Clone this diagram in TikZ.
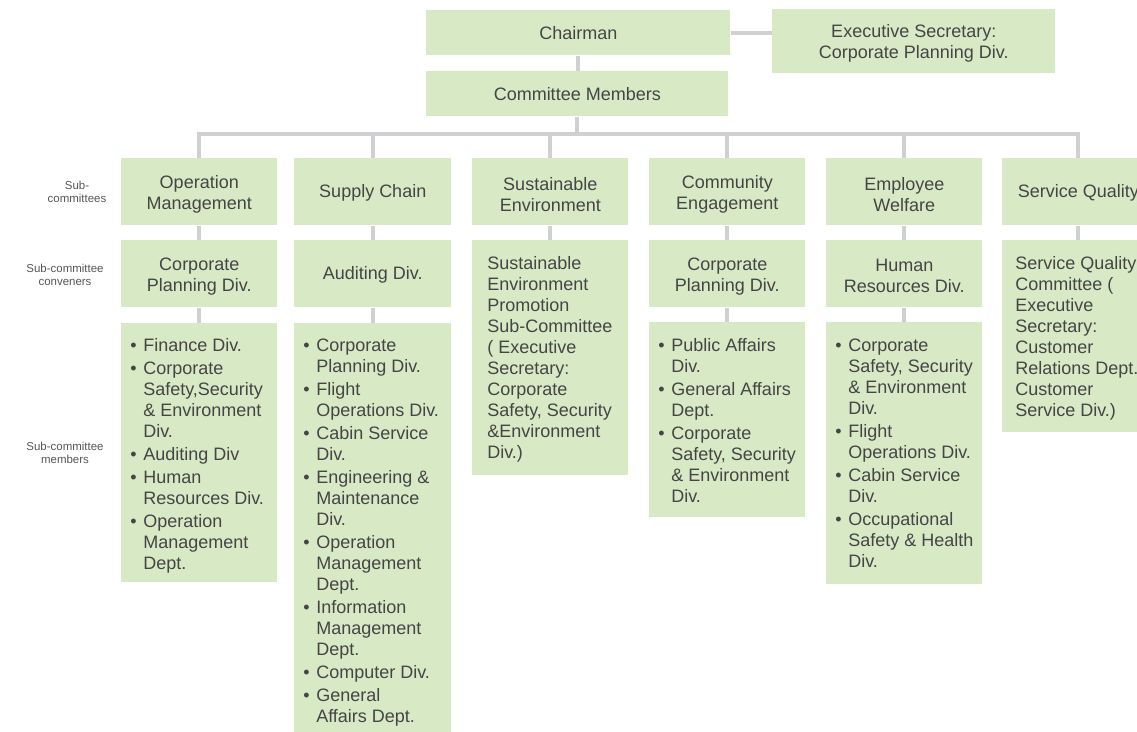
\documentclass[tikz,border=0pt]{standalone}
\usepackage{fontspec}
\setmainfont{Liberation Sans}
\newdimen\pxu \pxu=0.75pt
\definecolor{boxgreen}{HTML}{D8E9C5}
\definecolor{linegray}{HTML}{D0D0D3}
\definecolor{txtgray}{HTML}{454545}
\definecolor{lblgray}{HTML}{555555}
% bullet and hanging indent for the member lists
\newcommand\bu{\makebox[13\pxu][l]{\textbullet}}
\newcommand\hi{\hspace*{13\pxu}}
\tikzset{
  box/.style={fill=boxgreen, draw=none, inner sep=0pt, anchor=north west},
  ctext/.style={inner sep=0pt, align=center, text=txtgray,
    font=\fontsize{13.5pt}{15.75pt}\selectfont},
  two/.style={yshift=-2.5\pxu},
  one/.style={yshift=-1\pxu},
  ltext/.style={inner sep=0pt, align=left, anchor=north west, text=txtgray,
    font=\fontsize{13.5pt}{15.75pt}\selectfont},
  lbl/.style={inner sep=0pt, align=center, text=lblgray,
    font=\fontsize{8.6pt}{10.2pt}\selectfont},
  conn/.style={draw=linegray, line width=3pt, line join=miter},
}
% \boxat{name}{left}{top}{width}{height}, all in pixels
\newcommand\boxat[5]{\node[box, minimum width=#4\pxu, minimum height=#5\pxu] (#1) at (#2,#3) {};}
\begin{document}
\begin{tikzpicture}[x=0.75pt, y=-0.75pt]
\useasboundingbox (0,0) rectangle (1137,731);
\clip (0,0) rectangle (1137,731);

% top level
\boxat{chair}{426}{10}{304}{45}
\boxat{exec}{772}{9}{283}{64}
\boxat{cm}{426}{71}{302}{45}
\node[ctext] (t-chair) at (chair.center) {Chairman};
\node[ctext, two] (t-exec) at (exec.center) {Executive Secretary:\\Corporate Planning Div.};
\node[ctext] (t-cm) at (cm.center) {Committee Members};

% sub-committees
\boxat{s1}{121}{158}{156}{67}
\boxat{s2}{294}{158}{157}{67}
\boxat{s3}{472}{158}{156}{67}
\boxat{s4}{649}{158}{156}{67}
\boxat{s5}{826}{158}{156}{67}
\boxat{s6}{1002}{158}{152}{67}
\node[ctext, two] (t-s1) at (s1.center) {Operation\\Management};
\node[ctext, one] (t-s2) at (s2.center) {Supply Chain};
\node[ctext, two] (t-s3) at (s3.center) {Sustainable\\Environment};
\node[ctext, two] (t-s4) at (s4.center) {Community\\Engagement};
\node[ctext, two] (t-s5) at (s5.center) {Employee\\Welfare};
\node[ctext, one] (t-s6) at (s6.center) {Service Quality};

% conveners
\boxat{c1}{121}{240}{156}{67}
\boxat{c2}{294}{240}{157}{67}
\boxat{c4}{649}{240}{156}{67}
\boxat{c5}{826}{240}{156}{67}
\node[ctext, two] (t-c1) at (c1.center) {Corporate\\Planning Div.};
\node[ctext, one] (t-c2) at (c2.center) {Auditing Div.};
\node[ctext, two] (t-c4) at (c4.center) {Corporate\\Planning Div.};
\node[ctext, two] (t-c5) at (c5.center) {Human\\Resources Div.};

% members
\boxat{m1}{121}{323}{156}{259}
\boxat{m2}{294}{323}{157}{412}
\boxat{m3}{472}{240}{156}{235}
\boxat{m4}{649}{322}{156}{195}
\boxat{m5}{826}{322}{156}{262}
\boxat{m6}{1002}{240}{152}{192}

\node[ltext] (t-m1) at ([xshift=9\pxu, yshift=-14\pxu]m1.north west)
 {\strut\bu Finance Div.\\[2\pxu]
  \bu Corporate\\
  \hi Safety,Security\\
  \hi\& Environment\\
  \hi Div.\\[2\pxu]
  \bu Auditing Div\\[2\pxu]
  \bu Human\\
  \hi Resources Div.\\[2\pxu]
  \bu Operation\\
  \hi Management\\
  \hi Dept.};

\node[ltext] (t-m2) at ([xshift=9\pxu, yshift=-14\pxu]m2.north west)
 {\strut\bu Corporate\\
  \hi Planning Div.\\[2\pxu]
  \bu Flight\\
  \hi Operations Div.\\[2\pxu]
  \bu Cabin Service\\
  \hi Div.\\[2\pxu]
  \bu Engineering \&\\
  \hi Maintenance\\
  \hi Div.\\[2\pxu]
  \bu Operation\\
  \hi Management\\
  \hi Dept.\\[2\pxu]
  \bu Information\\
  \hi Management\\
  \hi Dept.\\[2\pxu]
  \bu Computer Div.\\[2\pxu]
  \bu General\\
  \hi Affairs Dept.};

\node[ltext] (t-m3) at ([xshift=15\pxu, yshift=-15\pxu]m3.north west)
 {\strut Sustainable\\
  Environment\\
  Promotion\\
  Sub-Committee\\
  ( Executive\\
  Secretary:\\
  Corporate\\
  Safety, Security\\
  \&Environment\\
  Div.)};

\node[ltext] (t-m4) at ([xshift=9\pxu, yshift=-15\pxu]m4.north west)
 {\strut\bu Public Affairs\\
  \hi Div.\\[2\pxu]
  \bu General Affairs\\
  \hi Dept.\\[2\pxu]
  \bu Corporate\\
  \hi Safety, Security\\
  \hi\& Environment\\
  \hi Div.};

\node[ltext] (t-m5) at ([xshift=9\pxu, yshift=-15\pxu]m5.north west)
 {\strut\bu Corporate\\
  \hi Safety, Security\\
  \hi\& Environment\\
  \hi Div.\\[2\pxu]
  \bu Flight\\
  \hi Operations Div.\\[2\pxu]
  \bu Cabin Service\\
  \hi Div.\\[2\pxu]
  \bu Occupational\\
  \hi Safety \& Health\\
  \hi Div.};

\node[ltext] (t-m6) at ([xshift=13\pxu, yshift=-15\pxu]m6.north west)
 {\strut Service Quality\\
  Committee (\\
  Executive\\
  Secretary:\\
  Customer\\
  Relations Dept.\\
  Customer\\
  Service Div.)};

% row labels
\node[lbl] (lab-s) at (77,192) {Sub-\\committees};
\node[lbl] (lab-c) at (65,275) {Sub-committee\\conveners};
\node[lbl] (lab-m) at (65,453) {Sub-committee\\members};

% connectors
\draw[conn] (chair.east) -- (chair.east -| exec.west);
\draw[conn] (chair.south) -- (chair.south |- cm.north);
\draw[conn] (cm.south) -- ++(0,17) coordinate (busc);
\draw[conn] (s1.north) -- (s1.north |- busc) -- (s6.north |- busc) -- (s6.north);
\foreach \s in {s2,s3,s4,s5} {
  \draw[conn] (\s.north) -- (\s.north |- busc);
}
\foreach \a/\b in {s1/c1, c1/m1, s2/c2, c2/m2, s3/m3, s4/c4, c4/m4, s5/c5, c5/m5, s6/m6} {
  \draw[conn] (\a.south) -- (\b.north);
}
\end{tikzpicture}
\end{document}
